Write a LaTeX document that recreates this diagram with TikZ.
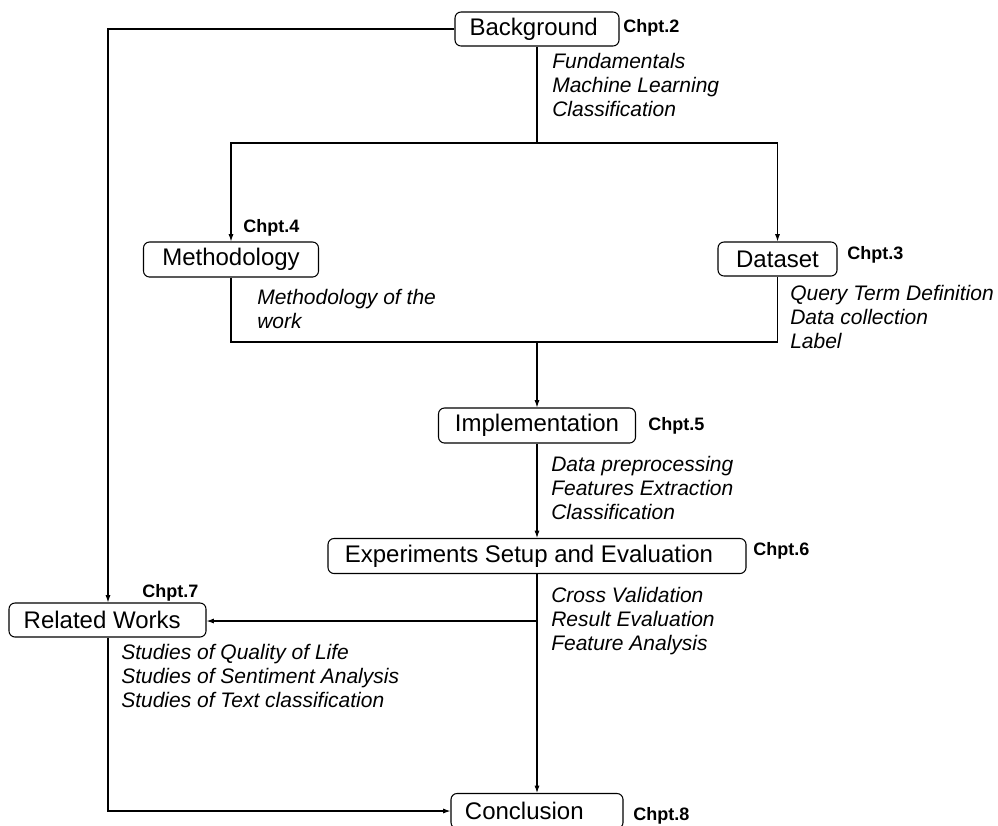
\documentclass[tikz,border=0pt]{standalone}
\usepackage{fontspec}
\setmainfont{Liberation Sans}
\usetikzlibrary{arrows.meta}
\newcommand{\padR}[1]{\rule{#1}{0pt}}
\begin{document}
\begin{tikzpicture}[x=0.75pt,y=-0.75pt,
  box/.style={draw, rounded corners=4.5pt, line width=0.8pt, inner sep=0pt,
    font=\fontsize{18}{21}\selectfont},
  note/.style={anchor=base west, inner sep=0pt, font=\fontsize{15.75}{18}\selectfont\itshape},
  chpt/.style={anchor=base west, inner sep=0pt, font=\fontsize{13.5}{16}\selectfont\bfseries},
  conn/.style={line width=0.8pt},
  arr/.style={conn, -{Latex[length=5.5pt,width=3.8pt]}}]
\useasboundingbox (0,0) rectangle (998,825);
\clip (0,0) rectangle (998,825);

% boxes
\node[box, minimum width=123pt, minimum height=25.5pt] (bg) at (537,29) {Background\padR{5pt}};
\node[box, minimum width=131.25pt, minimum height=26.25pt] (meth) at (231,259.5) {Methodology};
\node[box, minimum width=89.25pt, minimum height=25.5pt] (data) at (777.5,259) {Dataset};
\node[box, minimum width=147.75pt, minimum height=26.25pt] (impl) at (537,425.5) {Implementation};
\node[box, minimum width=313.5pt, minimum height=26.25pt] (exp) at (537,556) {Experiments Setup and Evaluation\padR{12pt}};
\node[box, minimum width=147.75pt, minimum height=25.5pt] (rel) at (107.5,620) {Related Works\padR{8pt}};
\node[box, minimum width=129pt, minimum height=26.25pt] (conc) at (537,811) {Conclusion\padR{19pt}};

% chapter labels
\node[chpt] (c2) at (623,32) {Chpt.2};
\node[chpt] (c4) at (243,232) {Chpt.4};
\node[chpt] (c3) at (847,259) {Chpt.3};
\node[chpt] (c5) at (648,430) {Chpt.5};
\node[chpt] (c6) at (753,555) {Chpt.6};
\node[chpt] (c7) at (142,597) {Chpt.7};
\node[chpt] (c8) at (633,820) {Chpt.8};

% notes
\node[note] (bgA) at (552,68) {Fundamentals};
\node[note] (bgB) at (552,92) {Machine Learning};
\node[note] (bgC) at (552,116) {Classification};
\node[note] (mA) at (257,304) {Methodology of the};
\node[note] (mB) at (257,328) {work};
\node[note] (dA) at (790,300) {Query Term Definition};
\node[note] (dB) at (790,324) {Data collection};
\node[note] (dC) at (790,348) {Label};
\node[note] (iA) at (551,471) {Data preprocessing};
\node[note] (iB) at (551,495) {Features Extraction};
\node[note] (iC) at (551,519) {Classification};
\node[note] (eA) at (551,602) {Cross Validation};
\node[note] (eB) at (551,626) {Result Evaluation};
\node[note] (eC) at (551,650) {Feature Analysis};
\node[note] (rA) at (121,659) {Studies of Quality of Life};
\node[note] (rB) at (121,683) {Studies of Sentiment Analysis};
\node[note] (rC) at (121,707) {Studies of Text classification};

% junction coordinates
\coordinate (j1) at (537,143);
\coordinate (j2) at (537,342);
\coordinate (j3) at (537,621);
\coordinate (lt) at (108,29);
\coordinate (lb) at (108,811);

% connectors
\draw[arr] (bg.west) -- (lt) -- (rel.north -| lt);
\draw[conn] (bg.south) -- (j1);
\draw[arr] (j1) -- (j1 -| meth.north) -- (meth.north);
\draw[arr] (j1) -- (j1 -| data.north) -- (data.north);
\draw[conn] (meth.south) -- (meth.south |- j2) -- (data.south |- j2) -- (data.south);
\draw[arr] (j2) -- (impl.north);
\draw[arr] (impl.south) -- (exp.north);
\draw[arr] (exp.south) -- (conc.north);
\draw[arr] (j3) -- (rel.east |- j3);
\draw[arr] (rel.south -| lb) -- (lb) -- (conc.west);
\end{tikzpicture}
\end{document}
